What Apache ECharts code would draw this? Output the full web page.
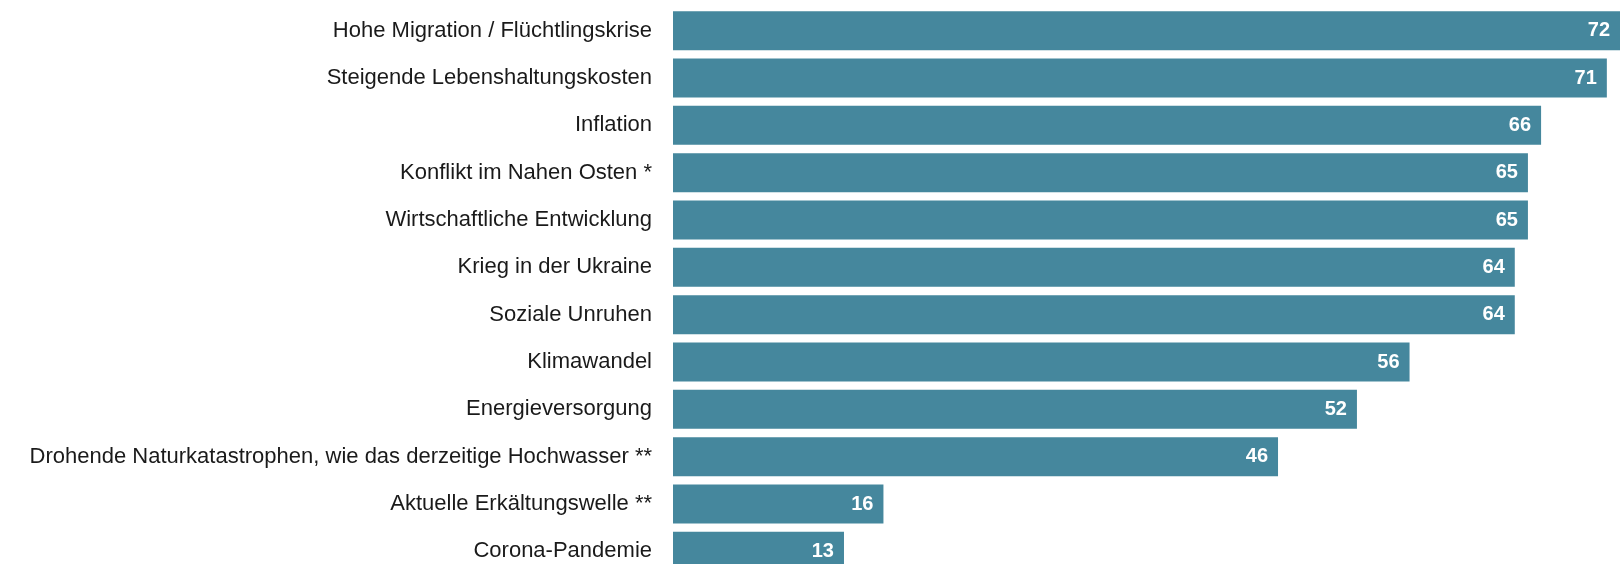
<!DOCTYPE html>
<html>
<head>
<meta charset="utf-8">
<script src="https://cdn.jsdelivr.net/npm/echarts@6/dist/echarts.min.js"></script>
<style>
  html, body { margin: 0; padding: 0; background: #fff; }
  #chart { width: 1620px; height: 564px; }
</style>
</head>
<body>
<div id="chart"></div>
<script>
const categories = [
  'Hohe Migration / Flüchtlingskrise',
  'Steigende Lebenshaltungskosten',
  'Inflation',
  'Konflikt im Nahen Osten *',
  'Wirtschaftliche Entwicklung',
  'Krieg in der Ukraine',
  'Soziale Unruhen',
  'Klimawandel',
  'Energieversorgung',
  'Drohende Naturkatastrophen, wie das derzeitige Hochwasser **',
  'Aktuelle Erkältungswelle **',
  'Corona-Pandemie'
];
const values = [72, 71, 66, 65, 65, 64, 64, 56, 52, 46, 16, 13];

const chart = echarts.init(document.getElementById('chart'));
chart.setOption({
  animation: false,
  grid: { left: 673, right: 0, top: 7, height: 568, outerBoundsMode: 'none' },
  xAxis: {
    type: 'value',
    min: 0,
    max: 72,
    show: false
  },
  yAxis: {
    type: 'category',
    inverse: true,
    data: categories,
    axisLine: { show: false },
    axisTick: { show: false },
    axisLabel: {
      margin: 21,
      fontFamily: 'Liberation Sans',
      fontSize: 22,
      color: '#1a1a1a'
    }
  },
  series: [{
    type: 'bar',
    data: values,
    barCategoryGap: '17.6%',
    itemStyle: { color: '#45879d' },
    label: {
      show: true,
      position: 'insideRight',
      offset: [-5, 0],
      fontFamily: 'Liberation Sans',
      fontSize: 20,
      fontWeight: 'bold',
      color: '#ffffff'
    }
  }]
});
</script>
</body>
</html>
